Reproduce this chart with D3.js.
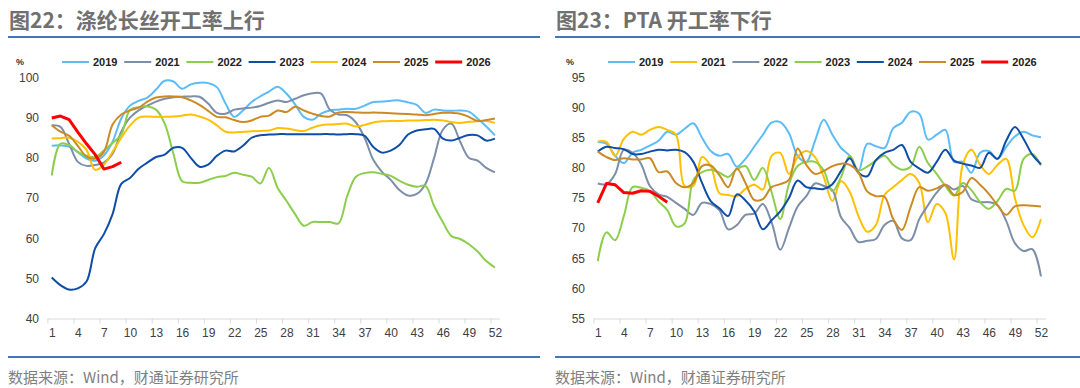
<!DOCTYPE html>
<html>
<head>
<meta charset="utf-8">
<script src="https://cdn.jsdelivr.net/npm/d3@7"></script>
<style>
  body { margin: 0; background: #fff; }
  svg { display: block; font-family: "Noto Sans CJK SC", "Liberation Sans", sans-serif; }
</style>
</head>
<body>
<svg id="chart" width="1080" height="388"></svg>
<script>
// week categories and tick labels
const weeks = Array.from({ length: 52 }, (_, i) => i + 1);
const xTicks = [1, 4, 7, 10, 13, 16, 19, 22, 25, 28, 31, 34, 37, 40, 43, 46, 49, 52];
const yTicksFilament = [40, 50, 60, 70, 80, 90, 100];
const yTicksPta = [55, 60, 65, 70, 75, 80, 85, 90, 95];

// 图22 涤纶长丝开工率 (%)
const filamentYears = ['2019', '2021', '2022', '2023', '2024', '2025', '2026'];
const filament2019 = [83, 83.1, 82.8, 81.4, 79.8, 79.3, 80.6, 84, 89.8, 93, 94.2, 95, 97, 99.2, 99, 97.2, 98.3, 98.7, 98.6, 97.6, 93.5, 90.2, 91.8, 93.9, 95.3, 96.5, 97.7, 96, 93.3, 90.2, 89.5, 91, 91.8, 92, 92.2, 92.2, 93, 93.9, 94, 94.2, 94.3, 93.8, 93.2, 91.2, 92, 91.8, 91.7, 91.8, 91.5, 89.8, 87.8, 85.6];
const filament2021 = [88.1, 87.7, 83.5, 79, 78, 78.2, 78.8, 81, 86.5, 90, 91.8, 93, 94, 94.7, 95.1, 95.2, 95.3, 95.2, 93.5, 91.2, 91, 92, 92.3, 92.5, 92.9, 93.7, 94.3, 93.9, 94.7, 95.6, 96.1, 96, 92, 90.8, 90.6, 88.8, 85, 79.5, 76.5, 74.5, 72, 70.6, 71, 73.5, 80, 87, 88.5, 84, 80, 79.3, 77.5, 76.4];
const filament2022 = [75.6, 83.5, 83.2, 81.5, 80.5, 80.2, 81.8, 83.7, 85.8, 91.9, 92.6, 92.8, 92, 88.5, 81, 74.2, 73.8, 73.8, 74.5, 75.2, 75.5, 76.3, 75.8, 75.3, 73.6, 77.5, 72.5, 69.3, 66, 63.1, 64, 64, 64, 63.7, 70.5, 75.3, 76.2, 76.4, 76, 75.5, 74.3, 73.3, 72.8, 73, 68, 64, 60.5, 59.8, 58.5, 56.7, 54.3, 52.7];
const filament2023 = [50.2, 48.3, 47.2, 47.5, 49.2, 57.5, 61, 66, 73.5, 75, 77.3, 78.8, 80.2, 80.8, 82.5, 82.5, 80, 77.8, 78.3, 80.5, 81.8, 81.6, 83, 85, 85.6, 85.8, 85.9, 85.9, 85.9, 85.9, 85.9, 85.9, 85.9, 85.8, 85.9, 85.9, 85.5, 82.7, 81.3, 81.8, 83.2, 85.8, 86.8, 87.1, 87.2, 84.8, 84.3, 85, 85.7, 85.6, 84.3, 84.8];
const filament2024 = [84.8, 84.9, 85, 84, 82, 77, 78.3, 81.5, 85, 88, 90, 90.3, 90.2, 90.2, 90.3, 90.5, 90.8, 90.3, 89.5, 88.1, 86.5, 86.3, 86.5, 86.6, 86.7, 86.8, 87.4, 87.3, 86.9, 86.7, 87.5, 88.1, 88.3, 88.4, 88.5, 87.8, 88.2, 88.8, 89.1, 89.2, 89.2, 89.3, 89.3, 89.4, 89.5, 89.3, 88.9, 88.7, 89, 89.1, 89.2, 88.7];
const filament2025 = [88.1, 86.5, 85.5, 83, 80.3, 79.8, 81.5, 88.3, 90.8, 91.8, 92.5, 94, 95, 95.3, 95.3, 95.1, 94.3, 93.2, 91.7, 90.2, 90.1, 89.4, 88.9, 89.3, 90.2, 90.5, 91.8, 91.4, 92.7, 91.8, 91, 90.4, 90.3, 91.3, 91.4, 91.3, 91.2, 91.3, 91.2, 91.1, 91, 90.9, 90.8, 90.6, 90.9, 91.2, 91.2, 91, 90.2, 89.2, 89.4, 89.8];
const filament2026 = [89.9, 90.4, 89.5, 86.4, 83.5, 80.8, 77.2, 77.8, 78.9];
const filamentColors = ['#5cbcf8', '#7d8ea8', '#8cce4c', '#0f4ea6', '#ffc000', '#cc8a25', '#ff0000'];

// 图23 PTA开工率 (%)
const ptaYears = ['2019', '2021', '2022', '2023', '2024', '2025', '2026'];
const pta2019 = [84.3, 84, 82, 80.8, 82.5, 83, 83.7, 84.5, 86, 85.5, 86.5, 87.4, 85, 82.8, 82, 82.3, 80.2, 81.5, 83.5, 85.5, 87.5, 87.6, 85.8, 82, 81, 84.5, 88, 85.5, 83.3, 82, 79.5, 84, 83.6, 83.3, 86.6, 87.5, 89.3, 89, 84.7, 85.5, 86.3, 81, 81, 79.2, 82.5, 82.8, 81.5, 83.5, 85.2, 86, 85.4, 85.1];
const pta2021 = [84.4, 84.3, 82, 84.8, 86, 85.5, 86.3, 86.8, 86.3, 85.5, 77, 77, 81.8, 80.3, 75.8, 75.5, 75.3, 76.5, 77.2, 76.4, 82, 82.5, 79, 81.8, 82.8, 81.8, 78.5, 74.5, 77.8, 76, 72, 69.4, 70.5, 75.5, 76.8, 78, 79, 77.5, 71, 74, 72.5, 64.8, 80.5, 83, 80.5, 79, 80.5, 81.5, 75, 70.5, 68.5, 71.5];
const pta2022 = [77.4, 77.3, 79, 83, 82.5, 80.6, 77, 75.6, 75.2, 74.2, 73.2, 72.2, 74.2, 74, 73, 69.8, 70.5, 72.2, 72.4, 74, 71, 66.4, 70, 73.6, 75.3, 77.4, 77, 76.3, 71.8, 70, 67.7, 67.9, 68.2, 70.5, 71.2, 68.3, 68, 71.5, 73.8, 75.9, 77.2, 76.4, 77, 74.8, 74.3, 74.3, 73.8, 71.2, 67.5, 66.2, 66.5, 62];
const pta2023 = [64.5, 69.3, 68, 72, 76.8, 76.7, 76.2, 74.4, 73, 70.3, 70.8, 78, 79.3, 79.7, 79.2, 78.5, 79.8, 80.3, 78, 80, 76, 71.5, 77.3, 80.3, 81, 81, 79.6, 76.1, 78.5, 82, 79.6, 80.2, 81.2, 82, 80.5, 79.7, 80.2, 83.5, 80.8, 79, 77, 75.4, 77.5, 76.3, 74.3, 73.2, 74.5, 76.5, 76.2, 81.5, 82.3, 80.4];
const pta2024 = [82.7, 83.5, 83.3, 83.1, 82.3, 82.3, 82.7, 83, 82.9, 83, 82.6, 81, 77.5, 74.5, 73.3, 72, 75.6, 74.6, 72.8, 69.8, 71.3, 72.8, 75, 77.9, 76.8, 76.6, 76.5, 77.3, 79.5, 81.6, 79.2, 78.6, 81.3, 82.5, 83, 83.8, 81, 79.9, 79.2, 81, 83, 81.2, 80.7, 80.4, 80, 82.5, 81.5, 84.5, 86.8, 84.8, 82.2, 80.6];
const pta2025 = [82.7, 81.8, 81.3, 81.6, 81.4, 81.4, 81.6, 79.3, 79.4, 77.5, 76.8, 77.5, 80.3, 80.4, 78.8, 76.8, 79.9, 77.5, 74.7, 74.8, 76.8, 77.3, 78, 83.2, 80.5, 79, 79.5, 80.3, 80.7, 80.5, 79.2, 76.1, 75.3, 75.2, 71.5, 69.7, 73.5, 76.8, 76.2, 76.6, 77.2, 75.5, 76, 78.3, 77.2, 75.7, 73.8, 72.2, 73.6, 73.8, 73.7, 73.6];
const pta2026 = [74.2, 77.4, 77.2, 75.9, 75.8, 76.2, 76.1, 75.3, 74.3];
const ptaColors = ['#5cbcf8', '#ffc000', '#7d8ea8', '#8cce4c', '#0f4ea6', '#cc8a25', '#ff0000'];

const svg = d3.select('#chart');

function drawPanel(p) {
  const g = svg.append('g').attr('transform', `translate(${p.ox},0)`);

  // title + rules
  g.append('text')
    .attr('x', p.titleX)
    .attr('y', 19)
    .attr('dominant-baseline', 'central')
    .attr('font-size', 21)
    .attr('font-weight', 700)
    .attr('fill', '#707070')
    .text(p.title);
  g.append('line')
    .attr('x1', p.ruleX1).attr('x2', p.ruleX2)
    .attr('y1', 37).attr('y2', 37)
    .attr('stroke', '#3f77bf').attr('stroke-width', 2);
  g.append('line')
    .attr('x1', p.ruleX1).attr('x2', p.ruleX2)
    .attr('y1', 357).attr('y2', 357)
    .attr('stroke', '#3f77bf').attr('stroke-width', 2);
  g.append('text')
    .attr('x', p.titleX - 1)
    .attr('y', 376)
    .attr('dominant-baseline', 'central')
    .attr('font-size', 15)
    .attr('fill', '#7f7f7f')
    .text('数据来源：Wind，财通证券研究所');

  const x = d3.scaleLinear().domain([0.5, 52.5]).range([47.4, 499.3]);
  const y = d3.scaleLinear().domain(p.yDomain).range([318.5, 77.5]);

  // y axis labels
  const ya = g.append('g')
    .attr('transform', 'translate(39,0)')
    .call(d3.axisLeft(y).tickValues(p.yTicks).tickSize(0).tickPadding(0));
  ya.select('.domain').remove();
  ya.selectAll('text')
    .attr('font-family', '"Liberation Sans", Arial, sans-serif')
    .attr('font-size', 12)
    .attr('fill', '#404040');

  // x axis: tick marks between categories, labels on categories
  const xa = g.append('g')
    .attr('transform', `translate(0,${y(p.yDomain[0])})`)
    .call(d3.axisBottom(x).tickValues(xTicks.map((w) => w - 0.5)).tickSize(5).tickSizeOuter(0).tickFormat(''));
  xa.select('.domain').attr('stroke', '#d9d9d9');
  xa.selectAll('.tick line').attr('stroke', '#d9d9d9');

  const xl = g.append('g')
    .attr('transform', `translate(0,${y(p.yDomain[0])})`)
    .call(d3.axisBottom(x).tickValues(xTicks).tickSize(0).tickPadding(10));
  xl.select('.domain').remove();
  xl.selectAll('text')
    .attr('font-family', '"Liberation Sans", Arial, sans-serif')
    .attr('font-size', 12)
    .attr('fill', '#404040');

  // lines
  p.series.forEach((vals, i) => {
    const isLast = i === p.series.length - 1;
    const line = d3.line()
      .x((d, j) => x(weeks[j]))
      .y((d) => y(d))
      .curve(isLast ? d3.curveLinear : d3.curveCatmullRom.alpha(0.5));
    g.append('path')
      .datum(vals)
      .attr('d', line)
      .attr('fill', 'none')
      .attr('stroke', p.colors[i])
      .attr('stroke-width', isLast ? 3 : 2)
      .attr('stroke-linejoin', 'round');
  });

  // legend
  g.append('text')
    .attr('x', p.pctX)
    .attr('y', 62)
    .attr('dominant-baseline', 'central')
    .attr('font-family', '"Liberation Sans", Arial, sans-serif')
    .attr('font-size', 9)
    .attr('font-weight', 700)
    .attr('fill', '#333')
    .text('%');
  p.years.forEach((yr, i) => {
    const lx = 62 + i * 62.2;
    g.append('line')
      .attr('x1', lx).attr('x2', lx + 27)
      .attr('y1', 62).attr('y2', 62)
      .attr('stroke', p.colors[i])
      .attr('stroke-width', i === p.years.length - 1 ? 3 : 2);
    g.append('text')
      .attr('x', lx + 31)
      .attr('y', 62)
      .attr('dominant-baseline', 'central')
      .attr('font-family', '"Liberation Sans", Arial, sans-serif')
      .attr('font-size', 11)
      .attr('font-weight', 700)
      .attr('fill', '#222')
      .text(yr);
  });
}

drawPanel({
  ox: 0,
  title: '图22：涤纶长丝开工率上行',
  titleX: 9,
  ruleX1: 8,
  ruleX2: 540,
  pctX: 16,
  yDomain: [40, 100],
  yTicks: yTicksFilament,
  years: filamentYears,
  colors: filamentColors,
  series: [filament2019, filament2021, filament2022, filament2023, filament2024, filament2025, filament2026],
});

drawPanel({
  ox: 546,
  title: '图23：PTA 开工率下行',
  titleX: 10,
  ruleX1: 9,
  ruleX2: 534,
  pctX: 20,
  yDomain: [55, 95],
  yTicks: yTicksPta,
  years: ptaYears,
  colors: ptaColors,
  series: [pta2019, pta2021, pta2022, pta2023, pta2024, pta2025, pta2026],
});
</script>
</body>
</html>
